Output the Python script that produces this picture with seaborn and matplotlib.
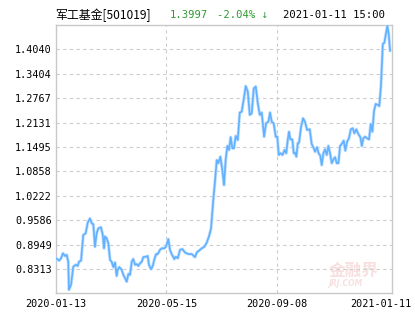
import matplotlib
matplotlib.use("Agg")
import matplotlib.pyplot as plt
import matplotlib.transforms as mtransforms
import seaborn as sns
import pandas as pd

# ---- data ----
days = [0, 2.2, 3.6, 5.0, 6.5, 7.7, 8.8, 9.3, 10.8, 12.4, 14.2, 15.6, 16.5, 18.0, 19.6, 21.3, 22.8, 24.4,
        25.7, 26.8, 28.0, 29.2, 30.4, 32.3, 33.6, 34.5, 35.2, 36.4, 37.6, 38.8, 40.0, 41.2, 42.4, 43.6,
        44.3, 45.5, 47.2, 48.4, 49.6, 50.8, 52.0, 53.2, 54.4, 55.5, 56.8, 58.0, 59.1, 60.4, 61.6, 62.7,
        64.5, 65.9, 66.8, 68.3, 69.5, 70.6, 71.9, 73.1, 74.7, 76.0, 77.8, 79.0, 80.7, 81.9, 83.1, 85.0,
        86.0, 87.5, 89.1, 90.8, 92.7, 95.1, 97.5, 99.9, 101.1, 102.8, 104.7, 106.6, 108.3, 109.9, 111.4,
        113.0, 114.3, 115.5, 116.6, 118.1, 119.5, 120.7, 121.9, 123.1, 124.3, 125.5, 126.7, 127.9, 129.1,
        130.6, 132.0, 133.4, 134.9, 136.3, 137.8, 139.2, 140.6, 142.1, 143.5, 145.0, 146.4, 147.8, 149.5,
        150.9, 152.6, 153.8, 155.0, 156.4, 157.9, 159.0, 160.0, 161.2, 162.8, 164.2, 165.4, 166.5, 167.4,
        168.4, 169.8, 170.8, 171.7, 172.7, 173.7, 174.6, 176.1, 177.5, 178.9, 180.4, 182.3, 183.7, 185.2,
        186.1, 187.6, 188.5, 189.9, 190.9, 192.1, 193.3, 194.5, 195.7, 196.9, 198.1, 199.3, 200.5, 201.7,
        202.9, 204.1, 205.3, 206.7, 207.9, 209.1, 210.5, 211.8, 213.2, 214.4, 215.8, 217.2, 218.7, 219.7,
        220.8, 222.0, 223.5, 224.9, 226.1, 227.3, 228.5, 229.7, 231.2, 232.3, 233.5, 234.8, 235.9, 237.1,
        238.1, 239.1, 240]
nav = [0.859, 0.853, 0.859, 0.872, 0.865, 0.868, 0.850, 0.777, 0.790, 0.837, 0.842, 0.839, 0.850, 0.853,
       0.920, 0.924, 0.952, 0.963, 0.950, 0.948, 0.889, 0.924, 0.937, 0.940, 0.920, 0.885, 0.916, 0.911,
       0.898, 0.855, 0.850, 0.836, 0.848, 0.813, 0.829, 0.836, 0.829, 0.816, 0.807, 0.798, 0.818, 0.816,
       0.850, 0.857, 0.842, 0.844, 0.839, 0.846, 0.850, 0.862, 0.863, 0.865, 0.842, 0.8305, 0.839, 0.855,
       0.870, 0.870, 0.881, 0.885, 0.885, 0.889, 0.909, 0.881, 0.870, 0.857, 0.863, 0.859, 0.881, 0.883,
       0.874, 0.870, 0.870, 0.862, 0.874, 0.879, 0.885, 0.889, 0.900, 0.916, 0.937, 1.011, 1.063, 1.115,
       1.107, 1.124, 1.089, 1.050, 1.115, 1.152, 1.1415, 1.175, 1.146, 1.146, 1.178, 1.1675, 1.239, 1.241,
       1.274, 1.308, 1.2935, 1.233, 1.237, 1.302, 1.307, 1.263, 1.233, 1.239, 1.176, 1.211, 1.2153, 1.239,
       1.215, 1.211, 1.176, 1.176, 1.1285, 1.133, 1.1285, 1.1415, 1.133, 1.1675, 1.189, 1.169, 1.169,
       1.133, 1.1345, 1.124, 1.159, 1.1605, 1.202, 1.224, 1.215, 1.1936, 1.1955, 1.157, 1.146, 1.137,
       1.1486, 1.1345, 1.126, 1.102, 1.133, 1.143, 1.1285, 1.152, 1.133, 1.107, 1.117, 1.1225, 1.107,
       1.107, 1.152, 1.157, 1.1657, 1.1397, 1.163, 1.172, 1.1954, 1.198, 1.185, 1.1954, 1.183, 1.1746,
       1.152, 1.172, 1.176, 1.172, 1.169, 1.209, 1.189, 1.244, 1.2614, 1.259, 1.256, 1.311, 1.418, 1.421,
       1.4457, 1.466, 1.441, 1.3997]

y_ticks = [0.8313, 0.8949, 0.9586, 1.0222, 1.0858, 1.1495, 1.2131, 1.2767, 1.3404, 1.4040]
x_tick_pos = [0, 79.3, 159, 240]
x_tick_labels = ["2020-01-13", "2020-05-15", "2020-09-08", "2021-01-11"]

title_name = "军工基金[501019]"
title_price = "1.3997"
title_change = "-2.04% ↓"
title_time = "2021-01-11 15:00"

# ---- style ----
sns.set_style("white")
plt.rcParams['font.family'] = ['DejaVu Sans Mono', 'Noto Sans CJK SC']

df = pd.DataFrame({"day": days, "nav": nav})

fig = plt.figure(figsize=(4.15, 3.30), dpi=100)
ax = fig.add_axes([56 / 415, 1 - 293.3 / 330, (392 - 56) / 415, (293.3 - 25) / 330])

# watermark (behind the line)
ax.text(0.885, 0.085, "金融界", transform=ax.transAxes, fontsize=12, va="center", ha="center",
        family=['Noto Sans CJK SC'], color="#f8e0e0", weight="bold", zorder=0)
ax.text(0.86, 0.035, "JRJ.COM", transform=ax.transAxes, fontsize=5.5, va="center", ha="center",
        family=['DejaVu Sans'], style="italic", weight="bold", color="#f8e0e0", zorder=0)

sns.lineplot(data=df, x="day", y="nav", ax=ax, color="#c4e1ff", linewidth=2.3, zorder=3)
sns.lineplot(data=df, x="day", y="nav", ax=ax, color="#62b1ff", linewidth=1.2, zorder=4)

ax.set_xlim(0, 241.4)
ax.set_ylim(0.7677, 1.4674)
ax.set_xlabel("")
ax.set_ylabel("")

ax.set_yticks(y_ticks)
ax.set_yticklabels([f"{v:.4f}" for v in y_ticks])
ax.set_xticks(x_tick_pos)
ax.set_xticklabels(x_tick_labels)
ax.tick_params(axis="both", length=0, labelsize=7.3, colors="black")
ax.tick_params(axis="y", pad=3)
ax.tick_params(axis="x", pad=4)

ax.grid(False)
for v in y_ticks:
    ax.axhline(v, color="#cccccc", linestyle=(0, (3, 3)), linewidth=0.8, zorder=1)
for p in x_tick_pos[1:3]:
    ax.axvline(p, color="#cccccc", linestyle=(0, (3, 3)), linewidth=0.8, zorder=1)

for s in ax.spines.values():
    s.set_color("#c8c8c8")
    s.set_linewidth(1.0)

# shift the last date label left so it stays inside the figure
lbl = ax.get_xticklabels()[-1]
lbl.set_transform(lbl.get_transform() + mtransforms.ScaledTranslation(-9 / 100, 0, fig.dpi_scale_trans))

# header
fig.text(55 / 415, 1 - 15 / 330, title_name, fontsize=8.6, va="center", ha="left",
         family=['Noto Sans CJK SC', 'DejaVu Sans Mono'], color="black")
fig.text(170 / 415, 1 - 15 / 330, title_price, fontsize=7.6, va="center", ha="left", color="#2e9a2e")
fig.text(217 / 415, 1 - 15 / 330, title_change, fontsize=7.6, va="center", ha="left", color="#2e9a2e")
fig.text(283 / 415, 1 - 15 / 330, title_time, fontsize=7.6, va="center", ha="left", color="black")

fig.savefig("out.png", dpi=100)
